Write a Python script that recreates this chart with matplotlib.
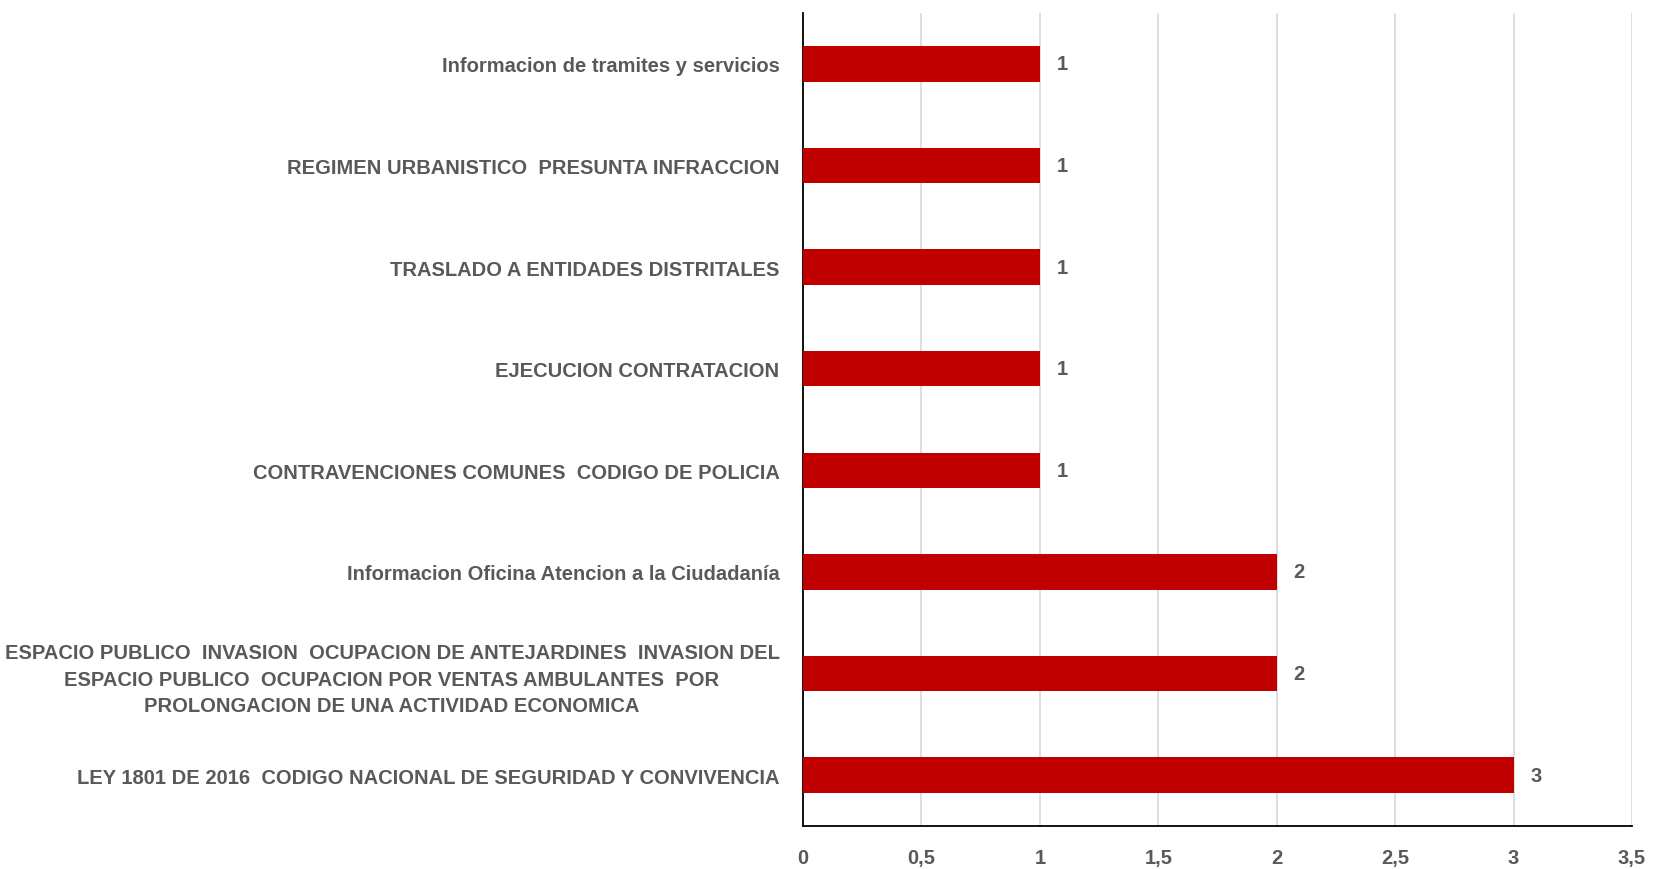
import matplotlib
matplotlib.use("Agg")
import matplotlib.pyplot as plt
from matplotlib.ticker import FuncFormatter

# categories listed top to bottom as in the chart
categories = [
    "Informacion de tramites y servicios",
    "REGIMEN URBANISTICO  PRESUNTA INFRACCION",
    "TRASLADO A ENTIDADES DISTRITALES",
    "EJECUCION CONTRATACION",
    "CONTRAVENCIONES COMUNES  CODIGO DE POLICIA",
    "Informacion Oficina Atencion a la Ciudadanía",
    "ESPACIO PUBLICO  INVASION  OCUPACION DE ANTEJARDINES  INVASION DEL\n"
    "ESPACIO PUBLICO  OCUPACION POR VENTAS AMBULANTES  POR\n"
    "PROLONGACION DE UNA ACTIVIDAD ECONOMICA",
    "LEY 1801 DE 2016  CODIGO NACIONAL DE SEGURIDAD Y CONVIVENCIA",
]
counts = [1, 1, 1, 1, 1, 2, 2, 3]
x_ticks = [0, 0.5, 1, 1.5, 2, 2.5, 3, 3.5]

BAR = "#C00000"
TXT = "#595959"
FS = 14.5

plt.rcParams['font.family'] = ['Liberation Sans Narrow', 'Liberation Sans', 'DejaVu Sans']
plt.rcParams['font.weight'] = 'bold'

fig = plt.figure(figsize=(16.53, 8.7), dpi=100)
ax = fig.add_axes([0.4858, 0.0494, 0.5015, 0.9346])

pos = list(range(len(categories)))
ax.barh(pos, counts, height=0.35, color=BAR, zorder=3)

for y, v in zip(pos, counts):
    ax.text(v + 0.07, y, str(v), va='center', ha='left', fontsize=FS,
            fontweight='bold', color=TXT)

ax.set_ylim(len(categories) - 0.5, -0.5)
ax.set_xlim(0, 3.5)
ax.set_yticks(pos)
ax.set_yticklabels(categories, fontsize=FS, fontweight='bold', color=TXT,
                   multialignment='center', linespacing=1.5)
ax.set_xticks(x_ticks)
ax.xaxis.set_major_formatter(FuncFormatter(lambda v, p: f"{v:g}".replace(".", ",")))
for lab in ax.get_xticklabels():
    lab.set_fontsize(FS)
    lab.set_fontweight('bold')
    lab.set_color(TXT)

ax.tick_params(axis='y', length=0, pad=17)
ax.tick_params(axis='x', length=0, pad=16)
ax.grid(axis='x', color='#D9D9D9', linewidth=1.2, zorder=0)
ax.spines['top'].set_visible(False)
ax.spines['right'].set_visible(False)
ax.spines['left'].set_color('black')
ax.spines['bottom'].set_color('black')
ax.spines['left'].set_linewidth(1.3)
ax.spines['bottom'].set_linewidth(1.3)

fig.savefig("out.png", dpi=100)
